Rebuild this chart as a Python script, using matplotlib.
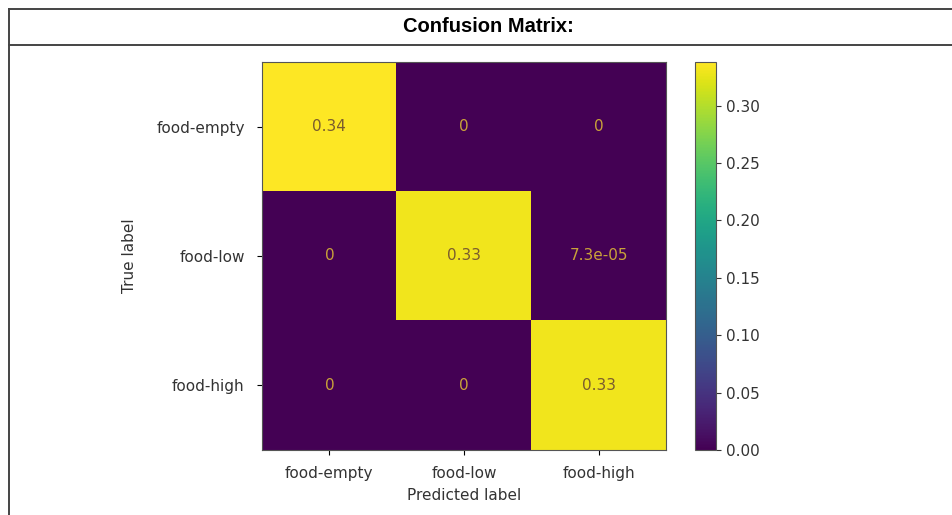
import numpy as np
import matplotlib
matplotlib.use("Agg")
import matplotlib.pyplot as plt
from matplotlib.lines import Line2D

plt.rcParams["font.family"] = "DejaVu Sans"

# normalised confusion matrix
class_names = ["food-empty", "food-low", "food-high"]
cm = np.array([
    [0.338, 0.0, 0.0],
    [0.0, 0.331, 7.3e-05],
    [0.0, 0.0, 0.331],
])
cbar_ticks = [0.00, 0.05, 0.10, 0.15, 0.20, 0.25, 0.30]

W, H = 952, 515
fig = plt.figure(figsize=(W / 100, H / 100), dpi=100)

# table-style frame around the plot
frame_kw = dict(color="#444444", lw=1.4, transform=fig.transFigure)
fig.add_artist(Line2D([8.5 / W, 1.0], [1 - 8.5 / H, 1 - 8.5 / H], **frame_kw))
fig.add_artist(Line2D([8.5 / W, 1.0], [1 - 44.5 / H, 1 - 44.5 / H], **frame_kw))
fig.add_artist(Line2D([8.5 / W, 8.5 / W], [0.0, 1 - 8.5 / H], **frame_kw))
fig.text(488 / W, 1 - 27 / H, "Confusion Matrix:", ha="center", va="center",
         fontsize=14.5, fontweight="bold", family="Liberation Sans")

ax = fig.add_axes([262 / W, 1 - 450 / H, 404 / W, 388 / H])
cax = fig.add_axes([695 / W, 1 - 450 / H, 21 / W, 388 / H])

im = ax.imshow(cm, cmap="viridis", interpolation="nearest", aspect="auto")
cb = fig.colorbar(im, cax=cax, ticks=cbar_ticks)
cb.ax.tick_params(labelsize=11, colors="#333333")
cb.outline.set_edgecolor("#555555")

thresh = (cm.max() + cm.min()) / 2.0
for i in range(cm.shape[0]):
    for j in range(cm.shape[1]):
        color = "#7a5c2e" if cm[i, j] > thresh else "#c9a23a"
        ax.text(j, i, format(cm[i, j], ".2g"), ha="center", va="center",
                color=color, fontsize=11)

ax.set_xticks(np.arange(len(class_names)))
ax.set_yticks(np.arange(len(class_names)))
ax.set_xticklabels(class_names, fontsize=11, color="#333333")
ax.set_yticklabels(class_names, fontsize=11, color="#333333")
ax.tick_params(axis="x", pad=8)
ax.tick_params(axis="y", pad=9)
ax.set_xlabel("Predicted label", fontsize=11, labelpad=5, color="#333333")
ax.set_ylabel("True label", fontsize=11, labelpad=14, color="#333333")
for s in ax.spines.values():
    s.set_edgecolor("#555555")

fig.savefig("out.png", dpi=100)
